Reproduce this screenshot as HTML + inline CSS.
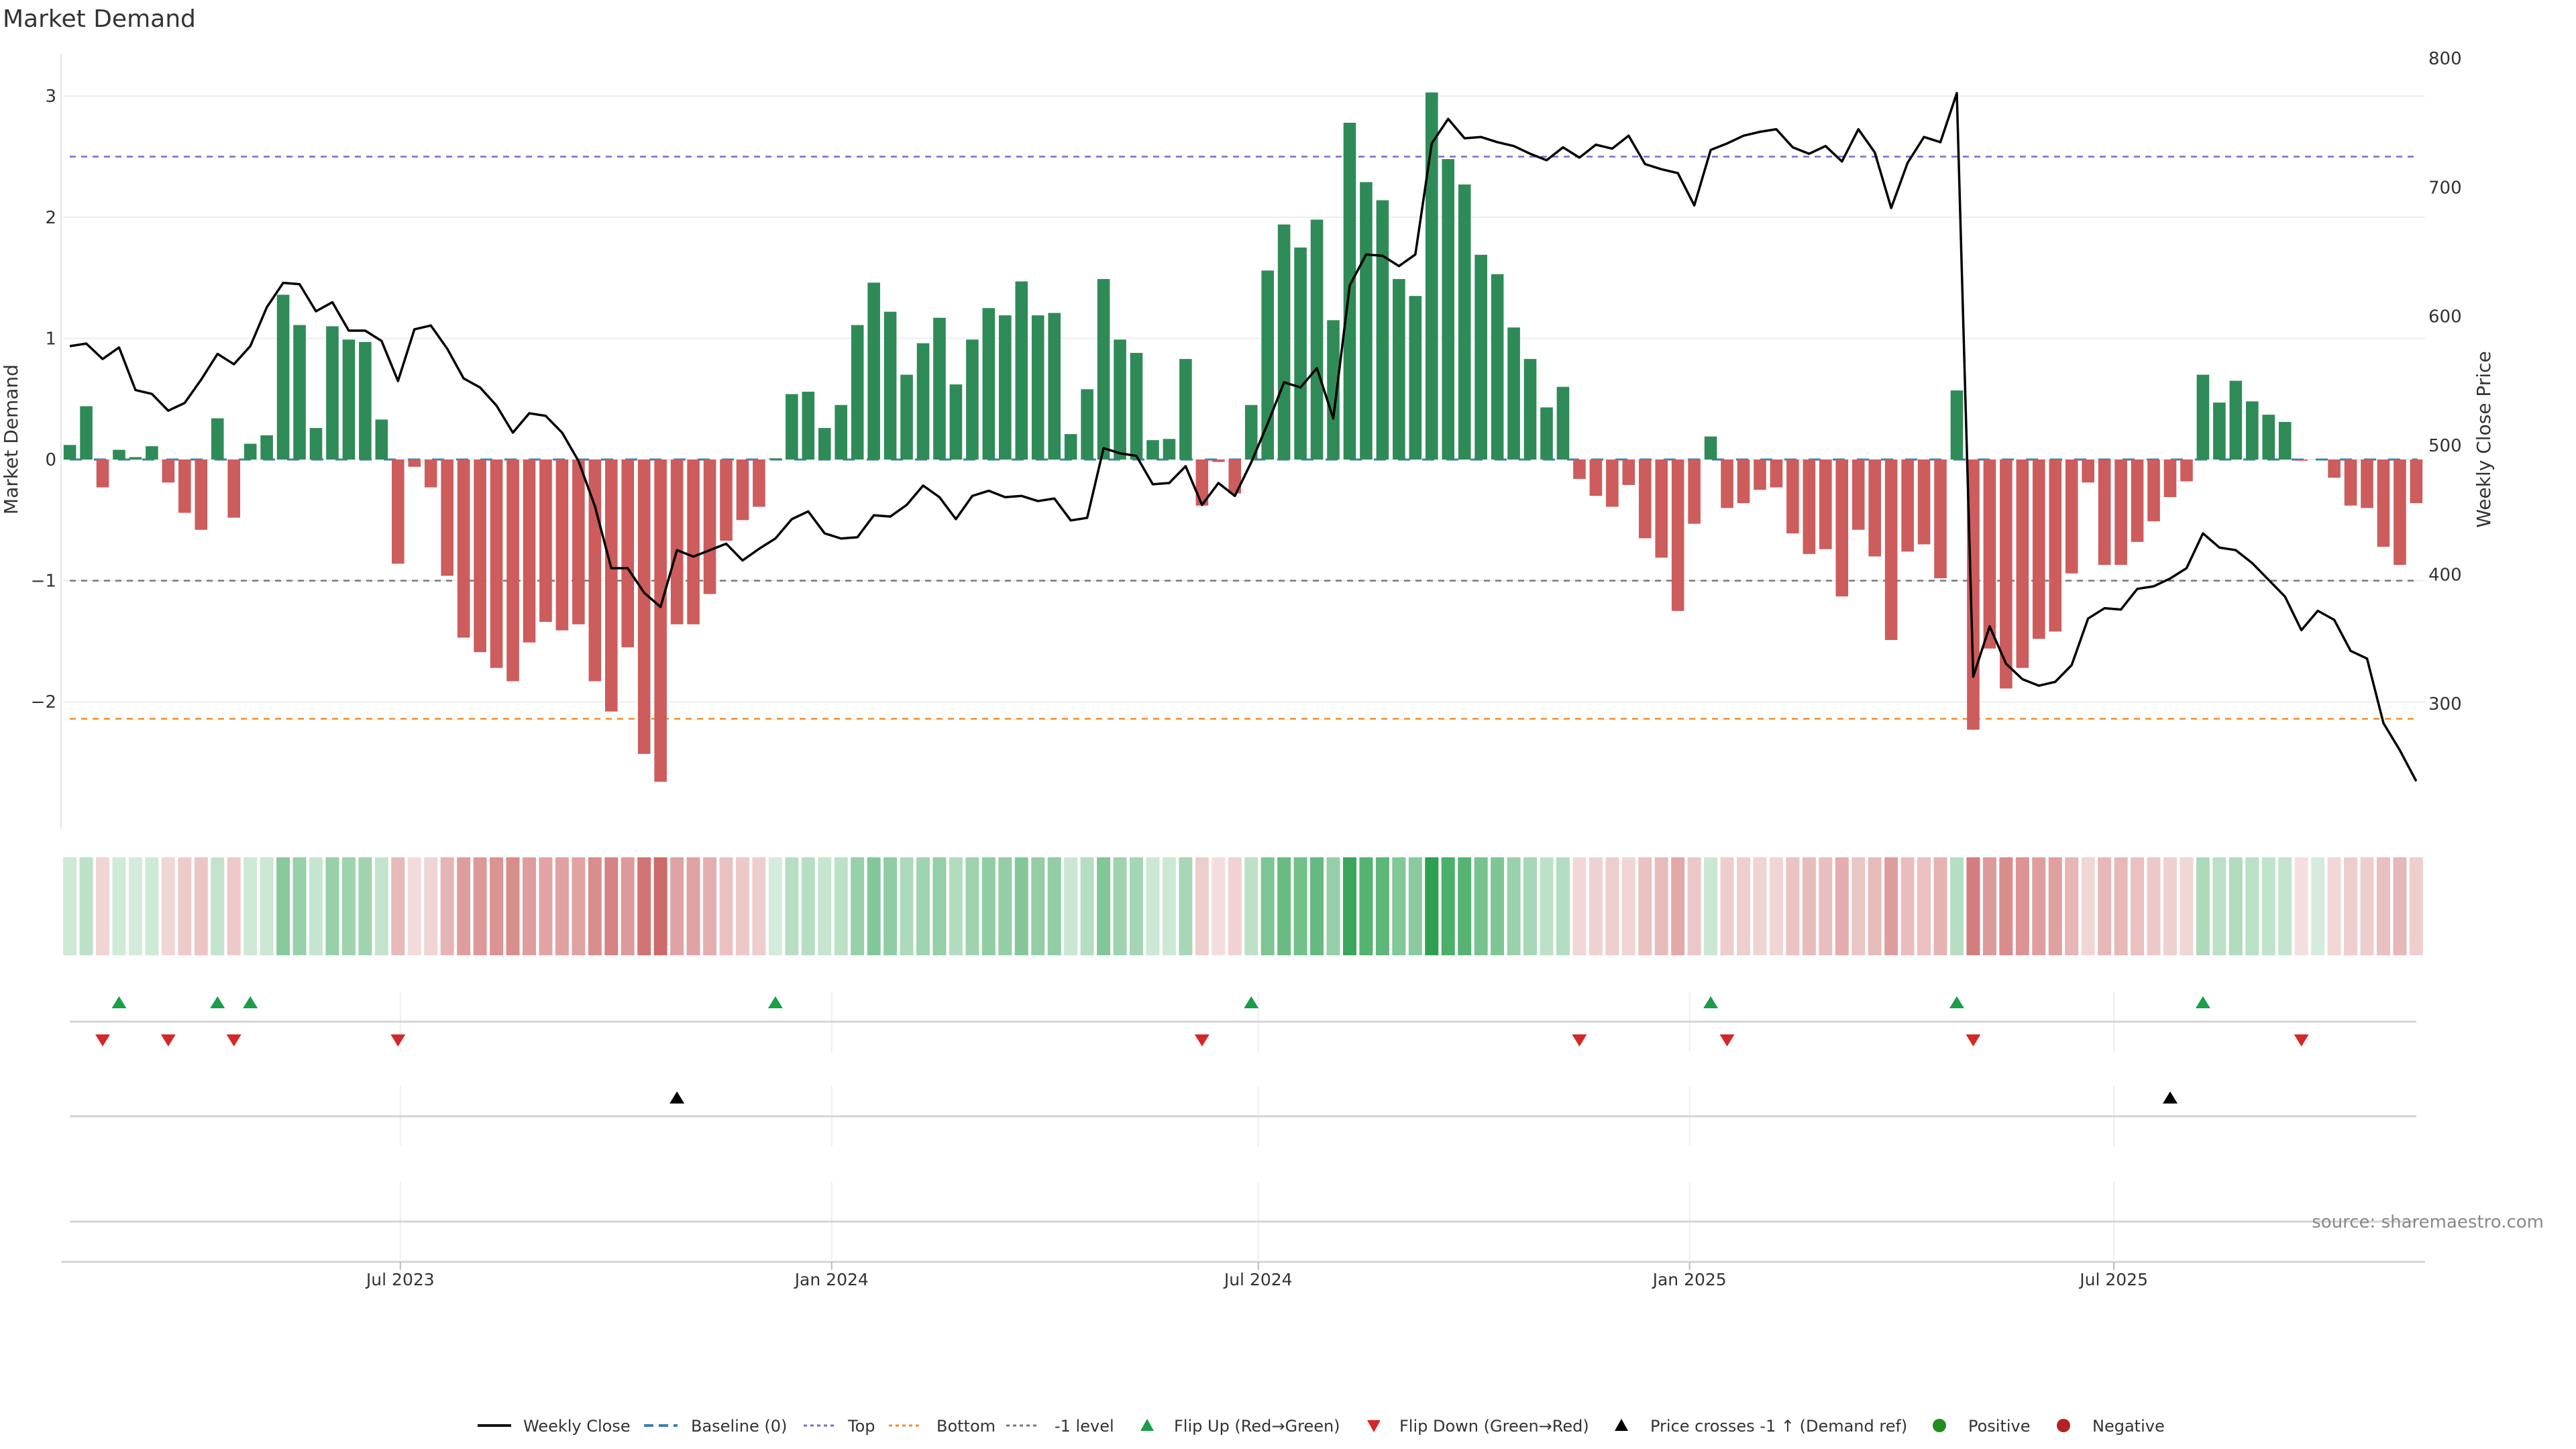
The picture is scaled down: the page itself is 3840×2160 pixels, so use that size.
<!DOCTYPE html>
<html><head><meta charset="utf-8"><title>Market Demand</title>
<style>
html,body{margin:0;padding:0;background:#fff;}
svg{display:block;font-family:"DejaVu Sans","Liberation Sans",sans-serif;}
</style></head>
<body>
<svg id="chart" xmlns="http://www.w3.org/2000/svg" width="3840" height="2160" viewBox="0 0 3840 2160">
<rect x="0" y="0" width="3840" height="2160" fill="#fff"/>
<text x="4" y="40" font-size="36" fill="#333">Market Demand</text>
<g id="grid"></g><g id="refs"></g><g id="bars"></g><g id="line"></g><g id="heat"></g><g id="panels"></g><g id="axes"></g>
<text transform="translate(26,655) rotate(-90)" text-anchor="middle" font-size="28" fill="#333">Market Demand</text>
<text transform="translate(3712,655) rotate(-90)" text-anchor="middle" font-size="28" fill="#333">Weekly Close Price</text>
<text x="3792" y="1830" text-anchor="end" font-size="26" fill="#888">source: sharemaestro.com</text>
<g id="legend" font-size="24" fill="#333">
 <g><line x1="712" y1="2125" x2="762" y2="2125" stroke="#111" stroke-width="4"/><text x="780" y="2134">Weekly Close</text></g>
 <g><line x1="960" y1="2125" x2="1010" y2="2125" stroke="#3a7fb0" stroke-width="4" stroke-dasharray="14,8"/><text x="1030" y="2134">Baseline (0)</text></g>
 <g><line x1="1198" y1="2125" x2="1248" y2="2125" stroke="#7b68cc" stroke-width="3" stroke-dasharray="5,5"/><text x="1264" y="2134">Top</text></g>
 <g><line x1="1325" y1="2125" x2="1375" y2="2125" stroke="#f28c28" stroke-width="3" stroke-dasharray="5,5"/><text x="1396" y="2134">Bottom</text></g>
 <g><line x1="1500" y1="2125" x2="1550" y2="2125" stroke="#777" stroke-width="3" stroke-dasharray="5,5"/><text x="1572" y="2134">-1 level</text></g>
 <g><path d="M1700,2133 L1720,2133 L1710,2115 Z" fill="#1a9e4a"/><text x="1750" y="2134">Flip Up (Red→Green)</text></g>
 <g><path d="M2038,2117 L2058,2117 L2048,2135 Z" fill="#d62728"/><text x="2086" y="2134">Flip Down (Green→Red)</text></g>
 <g><path d="M2407,2133 L2427,2133 L2417,2115 Z" fill="#000"/><text x="2460" y="2134">Price crosses -1 ↑ (Demand ref)</text></g>
 <g><circle cx="2891" cy="2125" r="10" fill="#228b22"/><text x="2934" y="2134">Positive</text></g>
 <g><circle cx="3076" cy="2125" r="10" fill="#b22222"/><text x="3119" y="2134">Negative</text></g>
</g>
</svg>
<script>
const demand = [0.12,0.44,-0.23,0.08,0.02,0.11,-0.19,-0.44,-0.58,0.34,-0.48,0.13,0.20,1.36,1.11,0.26,1.10,0.99,0.97,0.33,
-0.86,-0.06,-0.23,-0.96,-1.47,-1.59,-1.72,-1.83,-1.51,-1.34,-1.41,-1.36,-1.83,-2.08,-1.55,-2.43,-2.66,-1.36,-1.36,-1.11,
-0.67,-0.50,-0.39,0.01,0.54,0.56,0.26,0.45,1.11,1.46,1.22,0.70,0.96,1.17,0.62,0.99,1.25,1.19,1.47,1.19,
1.21,0.21,0.58,1.49,0.99,0.88,0.16,0.17,0.83,-0.38,-0.02,-0.28,0.45,1.56,1.94,1.75,1.98,1.15,2.78,2.29,
2.14,1.49,1.35,3.03,2.48,2.27,1.69,1.53,1.09,0.83,0.43,0.60,-0.16,-0.30,-0.39,-0.21,-0.65,-0.81,-1.25,-0.53,
0.19,-0.40,-0.36,-0.25,-0.23,-0.61,-0.78,-0.74,-1.13,-0.58,-0.80,-1.49,-0.76,-0.70,-0.98,0.57,-2.23,-1.56,-1.89,-1.72,
-1.48,-1.42,-0.94,-0.19,-0.87,-0.87,-0.68,-0.51,-0.31,-0.18,0.70,0.47,0.65,0.48,0.37,0.31,-0.01,0.00,-0.15,-0.38,
-0.40,-0.72,-0.87,-0.36];
const price = [577,579,567,576,543,540,527,533,551,571,563,577,607,626,625,604,611,589,589,581,
550,590,593,575,552,545,531,510,525,523,510,488,453,405,405,386,375,419,414,419,
424,411,420,428,443,449,432,428,429,446,445,454,469,460,443,461,465,460,461,457,
459,442,444,498,494,492,470,471,484,454,471,461,487,517,549,545,560,521,624,648,
647,639,648,734,753,738,739,735,732,726,721,731,723,733,730,740,718,714,711,686,
729,734,740,743,745,731,726,732,720,745,727,684,719,739,735,773,321,360,331,319,
314,317,330,366,374,373,389,391,397,405,432,421,419,409,396,383,357,372,365,341,
335,285,264,240];
const flipUp = [3,9,11,43,72,100,115,130];
const flipDown = [2,6,10,20,69,92,101,116,136];
const priceCross = [37,128];
const leftTicks = [3,2,1,0,-1,-2];
const rightTicks = [800,700,600,500,400,300];
const refTop = 2.5, refBottom = -2.14, refMinus1 = -1;
const xTickLabels = ["Jul 2023","Jan 2024","Jul 2024","Jan 2025","Jul 2025"];
const xTickDates = ["2023-07-01","2024-01-01","2024-07-01","2025-01-01","2025-07-01"];
const startDate = "2023-02-10";

const NS="http://www.w3.org/2000/svg";
const X0=104.1, STEP=24.46, PL=94, PR=3615;
function xi(i){return X0+STEP*i;}
function xd(d){return X0+STEP*((new Date(d)-new Date(startDate))/86400000/7);}
function yL(v){return 685-v*180.6;}
function yR(p){return 86.8+(800-p)*1.9246;}
function mk(tag,attrs,parent){const e=document.createElementNS(NS,tag);for(const k in attrs)e.setAttribute(k,attrs[k]);document.getElementById(parent).appendChild(e);return e;}

leftTicks.forEach(v=>{
  const g=mk('line',{x1:PL,x2:PR,y1:yL(v),y2:yL(v),stroke:'#eceef3','stroke-width':2},'grid');
  
  
  const t=mk('text',{x:84,y:yL(v)+9,'text-anchor':'end','font-size':26,fill:'#333'},'axes');
  t.textContent=(v<0?'−'+(-v):String(v));
  
  
});
rightTicks.forEach(p=>{
  const t=mk('text',{x:3620,y:yR(p)+9,'font-size':26,fill:'#333'},'axes');
  t.textContent=String(p);
  
  
});
const ax=mk('line',{x1:91,x2:91,y1:80,y2:1235,stroke:'#e4e4e4','stroke-width':2},'axes');



[[refTop,'#7b68cc','ref-top'],[refBottom,'#f28c28','ref-bottom'],[refMinus1,'#777','ref-minus1']].forEach(r=>{
  const l=mk('line',{x1:104,x2:3604,y1:yL(r[0]),y2:yL(r[0]),stroke:r[1],'stroke-width':2.5,'stroke-dasharray':'9,8'},'refs');
  
  
});
const bl=mk('line',{x1:104,x2:3604,y1:yL(0),y2:yL(0),stroke:'#3a7fb0','stroke-width':3,'stroke-dasharray':'18,18'},'refs');



demand.forEach((v,i)=>{
  const y0=yL(0), y1=yL(v);
  const b=mk('rect',{x:xi(i)-9.3,width:18.6,y:Math.min(y0,y1),height:Math.abs(y1-y0),fill:v>=0?'#2e8b57':'#cd5c5c'},'bars');
  
  
});

const pl=mk('polyline',{points:price.map((p,i)=>xi(i)+','+yR(p)).join(' '),fill:'none',stroke:'#000','stroke-width':3.5,'stroke-linejoin':'round'},'line');



const maxAbs=Math.max(...demand.map(Math.abs));
demand.forEach((v,i)=>{
  const a=0.2+0.8*Math.abs(v)/maxAbs;
  const base=v>=0?[44,160,80]:[200,90,90];
  const c=base.map(ch=>Math.round(255-a*(255-ch)));
  const r=mk('rect',{x:xi(i)-10,width:20,y:1278,height:146,fill:'rgb('+c.join(',')+')'},'heat');
  
  
});

[[1479,1568],[1619,1709],[1762,1878]].forEach(rg=>{
  xTickDates.forEach(d=>{
    const g=mk('line',{x1:xd(d),x2:xd(d),y1:rg[0],y2:rg[1],stroke:'#eeeeee','stroke-width':2},'panels');
    
    
  });
});
[1523,1664,1821].forEach(y=>{
  const l=mk('line',{x1:104,x2:3602,y1:y,y2:y,stroke:'#d4d4d4','stroke-width':3},'panels');
  
  
});
const xa=mk('line',{x1:91,x2:3615,y1:1881,y2:1881,stroke:'#d4d4d4','stroke-width':3},'panels');


xTickLabels.forEach((lab,k)=>{
  const x=xd(xTickDates[k]);
  const tk=mk('line',{x1:x,x2:x,y1:1881,y2:1893,stroke:'#bbb','stroke-width':2},'axes');
  
  
  const t=mk('text',{x:x,y:1916,'text-anchor':'middle','font-size':25,fill:'#333'},'axes');
  t.textContent=lab;
  
  
});
function tri(x,y,up,color,name){
  const d=up?`M${x-11},${y+9} L${x+11},${y+9} L${x},${y-9} Z`:`M${x-11},${y-9} L${x+11},${y-9} L${x},${y+9} Z`;
  const p=mk('path',{d:d,fill:color},'panels');
  
  
}
flipUp.forEach(i=>tri(xi(i),1494,true,'#1a9e4a','flip-up-marker'));
flipDown.forEach(i=>tri(xi(i),1551,false,'#d62728','flip-down-marker'));
priceCross.forEach(i=>tri(xi(i),1636,true,'#000','price-cross-marker'));
</script>
</body></html>
